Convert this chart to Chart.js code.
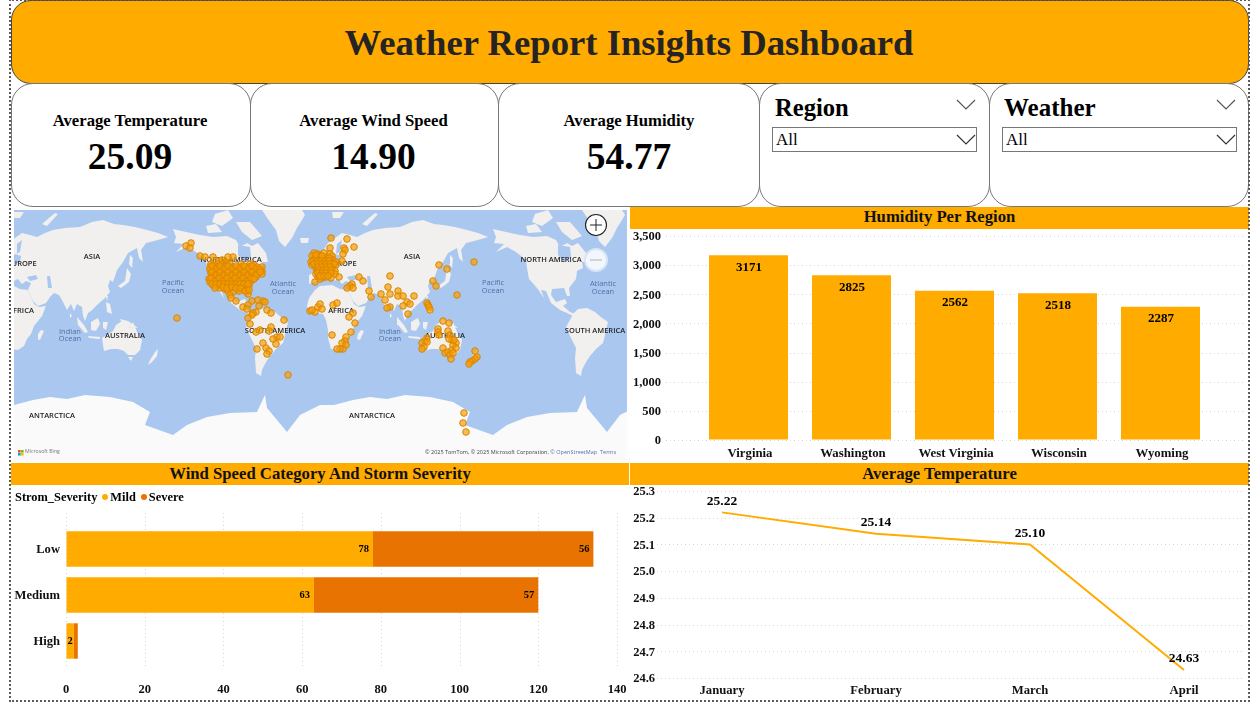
<!DOCTYPE html>
<html><head><meta charset="utf-8">
<script src="https://cdn.jsdelivr.net/npm/chart.js@4/dist/chart.umd.min.js"></script>
<style>
html,body{margin:0;padding:0;background:#fff;overflow:hidden;width:1257px;height:704px;font-family:"Liberation Serif",serif;color:#000}
.a{position:absolute;box-sizing:border-box}
.frame{left:9px;top:-1px;width:1241px;height:703px;border:2px dotted #5a5a5a}
.head{left:11px;top:0;width:1238px;height:84px;background:#FFAB00;border:1px solid #444;border-radius:20px;padding-right:2px;text-align:center;font-weight:bold;font-size:36.7px;line-height:84px;color:#252423}
.card{top:83px;height:124px;border:1px solid #777;border-radius:22px;background:#fff;text-align:center}
.card .t{position:absolute;left:0;right:0;top:27px;font-weight:bold;font-size:16.7px;line-height:20px}
.card .v{position:absolute;left:0;right:0;top:50px;font-weight:bold;font-size:37.5px;line-height:46px}
.shift .t,.shift .v{right:2px}
.sl{font-weight:bold;line-height:30px}
.dd{height:25px;border:1px solid #777;font-size:17px;line-height:24px;padding-left:3px;background:#fff}
.strip{background:#FFAB00;height:22px;text-align:center;font-weight:bold;font-size:16.7px;line-height:20px;color:#111}
.low{line-height:22px}
canvas{position:absolute;display:block}
.leg{left:15px;top:489px;font-weight:bold;font-size:12.4px;line-height:16px;white-space:pre}
.dot{display:inline-block;width:6px;height:6px;border-radius:50%;margin:0 2px 1px 5px}
</style></head><body>
<div class="a head" id="title"></div>
<div class="a card shift" style="left:11px;width:240px"><div class="t" id="k0t"></div><div class="v" id="k0v"></div></div>
<div class="a card shift" style="left:250px;width:249px"><div class="t" id="k1t"></div><div class="v" id="k1v"></div></div>
<div class="a card" style="left:498px;width:262px"><div class="t" id="k2t"></div><div class="v" id="k2v"></div></div>
<div class="a card" style="left:759px;width:231px"></div>
<div class="a card" style="left:989px;width:260px"></div>
<div class="a sl" style="left:775px;top:93px;font-size:24.6px">Region</div>
<div class="a sl" style="left:1004px;top:93px;font-size:25px">Weather</div>
<svg class="a" style="left:0;top:0" width="1257" height="160" fill="none" stroke="#555" stroke-width="1.2">
<path d="M957 100l9 9 9-9M1217 100l9 9 9-9"/></svg>
<div class="a dd" style="left:772px;top:127px;width:205px">All</div>
<div class="a dd" style="left:1002px;top:127px;width:235px">All</div>
<svg class="a" style="left:0;top:0" width="1257" height="160" fill="none" stroke="#333" stroke-width="1.2">
<path d="M957 135l9 9 9-9M1217 135l9 9 9-9"/></svg>

<canvas id="map" width="613" height="251" style="left:14px;top:210px;background:#AAC7F0"></canvas>
<svg class="a" style="left:584px;top:213px" width="26" height="62">
<circle cx="12" cy="12" r="10.5" fill="#fff" stroke="#222" stroke-width="1.1"/><path d="M6 12h12M12 6v12" stroke="#222" stroke-width="1"/>
<circle cx="12" cy="47" r="11" fill="#fff" fill-opacity=".85" stroke="#d9e4f5" stroke-width="2"/><path d="M6 47h12" stroke="#bbb" stroke-width="1.2"/></svg>

<div class="a strip" style="left:630px;top:207px;width:619px" id="s0"></div>
<canvas id="bar" width="619" height="237" style="left:630px;top:225px"></canvas>
<div class="a strip low" style="left:11px;top:463px;width:618px" id="s1"></div>
<canvas id="hbar" width="618" height="217" style="left:11px;top:485px"></canvas>
<div class="a leg" id="legend"></div>
<div class="a strip low" style="left:630px;top:463px;width:619px" id="s2"></div>
<canvas id="line" width="619" height="223" style="left:630px;top:479px"></canvas>
<div class="a frame"></div>

<script>
const dashboardTitle = "Weather Report Insights Dashboard";
const kpiLabels = ["Average Temperature","Average Wind Speed","Average Humidity"];
const kpiValues = ["25.09","14.90","54.77"];

const regions = ["Virginia","Washington","West Virginia","Wisconsin","Wyoming"];
const humidity = [3171,2825,2562,2518,2287];

const windCategories = ["Low","Medium","High"];
const mildStorms = [78,63,2];
const severeStorms = [56,57,1];

const months = ["January","February","March","April"];
const avgTemperature = [25.22,25.14,25.10,24.63];

const ORANGE="#FFAB00", DARK="#E87300", FONT='"Liberation Serif", serif';

/* map data, in map grid units; the world repeats every mapPeriod units */
const mapPeriod = 320;
const eurasia = [[168,237],[158,240],[146,243],[141,250],[143,262],[139,258],[137,248],[128,253],[123,262],[117,270],[113,282],[110,280],[108,286],[110,292],[104,299],[97,305],[91,311],[88,313],[85,321],[83,316],[82,307],[77,304],[74,311],[71,304],[67,310],[62,300],[59,295],[54,293],[50,297],[46,303],[38,306],[33,301],[28,290],[31,283],[26,281],[22,284],[18,279],[14,281],[10,277],[3,280],[-4,281],[-11,284],[-11,275],[-5,272],[-6,266],[3,262],[8,262],[10,266],[20,262],[21,256],[15,254],[10,260],[5,259],[2,252],[8,243],[22,233],[30,235],[37,237],[45,233],[53,230],[65,228],[80,227],[92,222],[103,220],[114,224],[123,225],[135,227],[147,230],[158,233]];
const africa = [[-5,290],[0,286],[12,285],[20,289],[28,290],[34,304],[39,307],[46,306],[42,316],[34,326],[31,334],[27,339],[24,346],[18,350],[11,349],[8,338],[8,330],[6,320],[3,314],[-3,313],[-10,313],[-13,306],[-11,298]];
const northAmerica = [[173,229],[186,232],[200,235],[213,237],[227,236],[236,240],[240,247],[247,243],[252,246],[258,243],[266,253],[268,262],[262,262],[263,268],[257,271],[256,279],[249,288],[250,296],[247,296],[244,288],[232,289],[231,295],[236,302],[245,299],[247,303],[243,306],[250,312],[255,314],[253,316],[247,313],[240,310],[231,303],[226,291],[221,290],[224,298],[217,288],[209,279],[207,268],[206,260],[196,252],[187,247],[176,252],[184,244],[174,243],[176,237]];
const southAmerica = [[253,314],[258,309],[267,308],[275,312],[282,318],[288,322],[285,335],[283,343],[276,349],[270,356],[266,362],[262,370],[261,376],[256,373],[255,358],[256,348],[250,336],[246,327],[250,320]];
const greenland = [[262,210],[302,210],[305,215],[297,228],[292,238],[285,247],[279,241],[276,230],[270,222]];
const arctic1 = [[215,214],[228,210],[233,218],[222,226],[212,222]];
const arctic2 = [[206,226],[216,224],[222,232],[208,233]];
const arctic3 = [[236,222],[250,222],[262,236],[252,240],[242,232]];
const australia = [[102,338],[108,334],[113,331],[116,325],[122,321],[127,322],[130,328],[133,322],[137,332],[142,340],[140,350],[135,355],[128,355],[124,351],[118,349],[111,349],[104,351],[103,345]];
const tasmania = [[128,357],[133,357],[131,361]];
const newGuinea = [[120,319],[128,321],[138,328],[130,327],[123,325]];
const borneo = [[91,322],[98,318],[100,324],[96,331],[91,330]];
const sumatra = [[77,317],[84,325],[88,332],[85,333],[78,325]];
const java = [[88,336],[100,337],[100,339],[89,338]];
const sulawesi = [[103,322],[108,322],[106,330],[103,328]];
const philippines = [[106,302],[110,304],[112,314],[107,312]];
const japan = [[127,268],[131,274],[129,282],[121,288],[118,286],[125,281]];
const sakhalin = [[130,255],[133,258],[132,268],[129,264]];
const taiwan = [[106,296],[108,296],[107,301]];
const srilanka = [[70,313],[72,316],[70,318]];
const madagascar = [[41,330],[44,331],[40,340],[37,339],[38,334]];
const newZealand = [[155,352],[158,349],[157,356],[152,362],[148,365],[150,360]];
const britain = [[-5,254],[-1,256],[1,263],[-6,265],[-4,260]];
const ireland = [[-11,258],[-7,258],[-8,263],[-12,263]];
const iceland = [[-20,238],[-11,238],[-12,243],[-19,243]];
const novaya = [[42,224],[55,213],[58,214],[47,226]];
const svalbard = [[12,212],[24,212],[20,218],[13,218]];
const antarctica = [[14,405],[33,400],[50,397],[67,399],[85,395],[110,397],[133,402],[150,412],[145,425],[173,435],[187,425],[207,417],[230,413],[257,412],[265,395],[267,408],[287,432],[300,415],[320,405],[336,405],[336,461],[14,461]];
const landShapes = [eurasia,africa,northAmerica,southAmerica,greenland,arctic1,arctic2,arctic3,australia,tasmania,newGuinea,borneo,sumatra,java,sulawesi,philippines,japan,sakhalin,taiwan,srilanka,madagascar,newZealand,britain,ireland,iceland,novaya,svalbard];
const blackSea = [[27,277],[36,275],[38,279],[30,281]];
const caspian = [[47,276],[50,276],[52,288],[48,288]];
const hudsonBay = [[238,245],[250,247],[251,257],[244,262],[238,255]];
const gulfBaltic = [[17,244],[22,240],[20,252],[16,254]];
const waterShapes = [blackSea,caspian,hudsonBay,gulfBaltic];

const northAmericaPoints = [
[219,261],[222,260],[226,262],
[211,264],[214,265],[218,264],[222,264],[226,265],[230,264],[241,264],[250,264],[254,265],
[210,267],[213,268],[217,267],[221,268],[225,267],[229,268],[233,267],[237,268],[241,267],[245,268],[249,267],[253,268],[257,267],[262,267],
[210,270],[214,271],[218,270],[222,271],[226,270],[230,271],[234,270],[238,271],[242,270],[246,271],[250,270],[254,271],[258,270],[262,271],
[211,273],[215,274],[219,273],[223,274],[227,273],[231,274],[235,273],[239,274],[243,273],[247,274],[251,273],[255,274],[259,273],[262,274],
[212,276],[216,277],[220,276],[224,277],[228,276],[232,277],[236,276],[240,277],[244,276],[248,277],[252,276],[256,277],
[209,279],[213,280],[217,279],[221,280],[225,279],[229,280],[233,279],[237,280],[241,279],[245,280],[249,279],[252,280],
[210,282],[214,283],[218,282],[222,283],[226,282],[230,283],[234,282],[238,283],[242,282],[246,283],[250,282],
[213,285],[217,286],[221,285],[225,286],[229,285],[233,286],[237,285],[241,286],[245,285],[249,286],
[220,288],[225,289],[230,288],[238,289],[243,288],[247,289],[228,291],[233,292],[239,291],[247,292],[230,295],[248,294],
[212,266],[216,269],[220,266],[224,269],[228,266],[232,269],[236,266],[240,269],[244,266],[248,269],[252,266],[256,269],[260,269],
[212,272],[216,275],[220,272],[224,275],[228,272],[232,275],[236,272],[240,275],[244,272],[248,275],[252,272],[256,275],[260,272],
[211,278],[215,281],[219,278],[223,281],[227,278],[231,281],[235,278],[239,281],[243,278],[247,281],[251,278],[254,279],
[212,284],[216,284],[220,284],[224,284],[228,284],[232,284],[236,284],[240,284],[244,284],[248,284],
[215,288],[223,287],[227,288],[232,287],[236,288],[241,288],[245,291],[249,290],
[186,246],[191,243],[190,248],[200,256],[205,257],[213,257],[228,257],[233,257],[231,298],[236,301]];
const southAmericaPoints = [
[252,301],[258,300],[263,301],[265,302],[243,307],[248,305],[247,309],[259,306],[256,312],[253,313],[252,315],[267,310],[271,313],[284,320],[248,318],[250,324],[271,327],[260,330],[256,332],[269,331],[277,337],[280,337],[273,339],[276,344],[263,343],[257,349],[266,348],[269,351],[267,354],[177,318],[288,375]];
const europePoints = [
[331,238],[347,239],[354,247],[344,248],[345,250],[330,248],[343,254],[342,261],
[314,253],[318,254],[324,253],[330,254],[312,256],[316,257],[320,256],[327,257],[332,256],
[314,259],[318,260],[322,259],[326,260],[330,259],[333,260],[311,262],[315,263],[319,262],[323,263],[327,262],[331,263],[336,262],
[312,265],[316,266],[320,265],[324,266],[328,265],[332,266],[336,265],[316,268],[320,269],[324,268],[328,269],[332,268],
[317,271],[321,272],[325,271],[329,272],[335,271],[316,274],[320,275],[324,274],[329,275],[335,274],[318,277],[322,278],[326,277],[331,278],[315,282],[320,279],[339,277],
[316,255],[322,256],[329,258],[313,261],[317,261],[321,261],[325,261],[329,261],[314,264],[318,264],[322,264],[326,264],[330,264],[334,264],[318,267],[322,267],[326,267],[330,267],[319,270],[323,270],[327,270],[331,270],[318,273],[322,273],[326,273],[331,273],[320,276],[324,276],[328,276]];
const asiaPoints = [
[359,277],[363,281],[352,284],[350,286],[353,288],[347,288],[369,291],[371,297],[381,294],[385,300],[390,294],[388,287],[398,291],[398,296],[403,296],[414,296],[407,302],[410,304],[403,306],[390,307],[387,308],[408,314],[390,276],[439,265],[447,269],[433,281],[436,286],[474,262],[457,295],[427,303],[428,305],[429,307],[430,310]];
const africaPoints = [
[310,311],[315,312],[318,307],[320,304],[322,309],[312,310],[333,305],[337,303],[353,313],[349,317],[355,323],[351,332],[332,335],[346,337],[345,341],[342,343],[346,345],[343,349],[340,349],[337,349]];
const oceaniaPoints = [
[443,321],[449,323],[438,329],[438,332],[439,335],[448,331],[450,335],[452,340],[456,343],[453,345],[427,338],[425,341],[422,343],[427,342],[424,347],[422,349],[443,348],[445,353],[448,352],[452,350],[456,348],[450,355],[451,359],[453,353],[454,340],[449,339],[475,351],[477,357],[475,359],[472,361],[470,362],[469,364],[464,413],[463,423],[466,432]];
const stormLocations = [...northAmericaPoints,...southAmericaPoints,...europePoints,...asiaPoints,...africaPoints,...oceaniaPoints];

const continentLabels = [["NORTH AMERICA",231,260],["NORTH AMERICA",551,260],["SOUTH AMERICA",275,331],["SOUTH AMERICA",595,331],["EUROPE",22,264],["EUROPE",342,264],["ASIA",92,257],["ASIA",412,257],["AFRICA",21,311],["AFRICA",341,311],["AUSTRALIA",125,336],["AUSTRALIA",445,336],["ANTARCTICA",52,416],["ANTARCTICA",372,416]];
const oceanLabels = [["Pacific",173,283],["Ocean",173,291],["Pacific",493,283],["Ocean",493,291],["Atlantic",283,284],["Ocean",283,292],["Atlantic",603,284],["Ocean",603,292],["Indian",70,332],["Ocean",70,339],["Indian",390,332],["Ocean",390,339]];
const attribution = ["© 2025 TomTom, © 2025 Microsoft Corporation, ","© OpenStreetMap","  Terms"];

document.getElementById("title").textContent = dashboardTitle;
kpiLabels.forEach((t,i)=>{document.getElementById("k"+i+"t").textContent=t;document.getElementById("k"+i+"v").textContent=kpiValues[i];});
document.getElementById("s0").textContent="Humidity Per Region";
document.getElementById("s1").textContent="Wind Speed Category And Storm Severity";
document.getElementById("s2").textContent="Average Temperature";
document.getElementById("legend").innerHTML='Strom_Severity<span class="dot" style="background:'+ORANGE+'"></span>Mild<span class="dot" style="background:'+DARK+'"></span>Severe';

Chart.defaults.font.family = FONT;
Chart.defaults.font.weight = "bold";
Chart.defaults.color = "#111";
Chart.defaults.animation = false;
Chart.defaults.responsive = false;
Chart.defaults.plugins.legend.display = false;
Chart.defaults.plugins.tooltip.enabled = false;

/* invisible tick marks hold the labels off the plot area without adding axis padding */
const tickGap = n => ({display:true,drawOnChartArea:false,drawTicks:true,tickLength:n,tickColor:"rgba(0,0,0,0)",color:"rgba(0,0,0,0)"});

/* dotted grid lines that run past the plot area */
function dottedGrid(axisId, from, to){
  return {id:"dottedGrid", beforeDatasetsDraw(c){
    const s=c.scales[axisId], x=c.ctx; x.save(); x.strokeStyle="#d4d4d4"; x.lineWidth=1; x.setLineDash([1,3]);
    s.ticks.forEach(t=>{const p=Math.round(s.getPixelForValue(t.value))+.5; x.beginPath();
      if(s.isHorizontal()){x.moveTo(p,from);x.lineTo(p,to);} else {x.moveTo(from,p);x.lineTo(to,p);} x.stroke();});
    x.restore();
  }};
}

/* bar chart */
new Chart(document.getElementById("bar"),{type:"bar",
 data:{labels:regions,datasets:[{data:humidity,backgroundColor:ORANGE,barPercentage:.767,categoryPercentage:1}]},
 options:{layout:{padding:{top:11,right:37}},
  scales:{
   x:{grid:tickGap(6),border:{display:false},ticks:{font:{size:12.8,weight:"bold"},padding:0,maxRotation:0,labelOffset:1.5},afterFit(s){s.height=22}},
   y:{min:0,max:3500,grid:tickGap(36),border:{display:false},ticks:{stepSize:500,font:{size:12.5,weight:"bold"},padding:0,labelOffset:1},afterFit(s){s.width=67}}
  }},
 plugins:[dottedGrid("y",36,614),{id:"vals",afterDatasetsDraw(c){const x=c.ctx;x.save();x.font='bold 13px '+FONT;x.fillStyle="#000";x.textAlign="center";x.textBaseline="middle";
   c.getDatasetMeta(0).data.forEach((b,i)=>x.fillText(String(humidity[i]),b.x+.5,b.y+12));x.restore();}}]
});

/* stacked horizontal bars */
new Chart(document.getElementById("hbar"),{type:"bar",
 data:{labels:windCategories,datasets:[
  {label:"Mild",data:mildStorms,backgroundColor:ORANGE,barPercentage:.77,categoryPercentage:1},
  {label:"Severe",data:severeStorms,backgroundColor:DARK,barPercentage:.77,categoryPercentage:1}]},
 options:{indexAxis:"y",layout:{padding:{top:41,right:12}},
  scales:{
   x:{stacked:true,min:0,max:140,grid:tickGap(18),border:{display:false},ticks:{stepSize:20,font:{size:12.5,weight:"bold"},padding:0,maxRotation:0},afterFit(s){s.height=38}},
   y:{stacked:true,grid:tickGap(6),border:{display:false},ticks:{font:{size:12.6,weight:"bold"},padding:0,labelOffset:1},afterFit(s){s.width=55}}
  }},
 plugins:[dottedGrid("x",28,183),{id:"vals",afterDatasetsDraw(c){const x=c.ctx;x.save();x.font='bold 10.5px '+FONT;x.fillStyle="#000";x.textBaseline="middle";
   c.data.datasets.forEach((d,k)=>c.getDatasetMeta(k).data.forEach((b,i)=>{
     const t=String(d.data[i]),w=x.measureText(t).width,bw=b.x-b.base;
     if(bw<w+2)return;
     if(bw<w+8){x.textAlign="center";x.fillText(t,(b.x+b.base)/2,b.y+.5);}
     else{x.textAlign="right";x.fillText(t,b.x-4,b.y+.5);}
   }));x.restore();}}]
});

/* line */
new Chart(document.getElementById("line"),{type:"line",
 data:{labels:months,datasets:[{data:avgTemperature,borderColor:ORANGE,borderWidth:2,pointRadius:0,tension:0,fill:false}]},
 options:{layout:{padding:{top:12,right:65},autoPadding:false},
  scales:{
   x:{offset:false,grid:tickGap(5),border:{display:false},ticks:{font:{size:12.7,weight:"bold"},padding:0,maxRotation:0,autoSkip:false},afterFit(s){s.height=24}},
   y:{min:24.6,max:25.3,grid:tickGap(67),border:{display:false},ticks:{stepSize:.1,font:{size:12.5,weight:"bold"},padding:0,labelOffset:1,callback:v=>Number(v).toFixed(1)},afterFit(s){s.width=92}}
  }},
 plugins:[dottedGrid("y",27,614),{id:"vals",afterDatasetsDraw(c){const x=c.ctx;x.save();x.font='bold 13.5px '+FONT;x.fillStyle="#000";x.textAlign="center";x.textBaseline="middle";
   c.getDatasetMeta(0).data.forEach((p,i)=>x.fillText(avgTemperature[i].toFixed(2),p.x,p.y-11));x.restore();}}]
});

/* map */
const shapeSet=(shape,shift,color)=>({type:"scatter",showLine:true,pointRadius:0,borderWidth:0,borderColor:color,backgroundColor:color,fill:"shape",tension:0,
  data:[...shape,shape[0]].map(p=>({x:p[0]+shift,y:p[1]}))});
const mapDatasets=[{type:"scatter",label:"Storms",data:stormLocations.map(p=>({x:p[0],y:p[1]})),pointRadius:3.3,pointBorderWidth:1,pointBackgroundColor:"rgba(247,158,0,.68)",pointBorderColor:"#D98500",showLine:false}];
waterShapes.forEach(s=>[0,mapPeriod].forEach(d=>mapDatasets.push(shapeSet(s,d,"#AAC7F0"))));
landShapes.forEach(s=>[0,mapPeriod].forEach(d=>mapDatasets.push(shapeSet(s,d,"#F1F0EE"))));
[0,mapPeriod].forEach(d=>mapDatasets.push(shapeSet(antarctica,d,"#FAFAFA")));
new Chart(document.getElementById("map"),{type:"scatter",data:{datasets:mapDatasets},
 options:{layout:{padding:0,autoPadding:false},scales:{x:{display:false,min:14,max:627},y:{display:false,reverse:true,min:210,max:461}}},
 plugins:[{id:"mapText",beforeDatasetDraw(c,args){ if(args.index!==0)return;
   const x=c.ctx,X=c.scales.x,Y=c.scales.y,a=c.chartArea;x.save();x.beginPath();x.rect(a.left,a.top,a.width,a.height);x.clip();
   x.textAlign="center";x.textBaseline="middle";
   x.font='600 7.5px "Open Sans", sans-serif';x.fillStyle="#222";
   continentLabels.forEach(l=>x.fillText(l[0],X.getPixelForValue(l[1]),Y.getPixelForValue(l[2])));
   x.font='400 7.5px "Open Sans", sans-serif';x.fillStyle="#4F6FA6";
   oceanLabels.forEach(l=>x.fillText(l[0],X.getPixelForValue(l[1]),Y.getPixelForValue(l[2])));
   x.restore();
 },afterDraw(c){
   const x=c.ctx,X=c.scales.x,Y=c.scales.y;x.save();x.textBaseline="middle";
   const y=Y.getPixelForValue(452);
   [["#F25022",18,450],["#7FBA00",21,450],["#00A4EF",18,453],["#FFB900",21,453]].forEach(s=>{x.fillStyle=s[0];x.fillRect(X.getPixelForValue(s[1]),Y.getPixelForValue(s[2]),2.6,2.6);});
   x.fillStyle="#777";x.font='400 5.2px "Open Sans", sans-serif';x.textAlign="left";x.fillText("Microsoft Bing",X.getPixelForValue(25),y);
   x.font='400 5.5px "Open Sans", sans-serif';x.fillStyle="#444";
   let px=X.getPixelForValue(425);x.fillText(attribution[0],px,y);px+=x.measureText(attribution[0]).width;
   x.fillStyle="#5B6FB0";x.fillText(attribution[1],px,y);px+=x.measureText(attribution[1]).width;x.fillText(attribution[2],px,y);
   x.restore();
 }}]
});
</script>
</body></html>
